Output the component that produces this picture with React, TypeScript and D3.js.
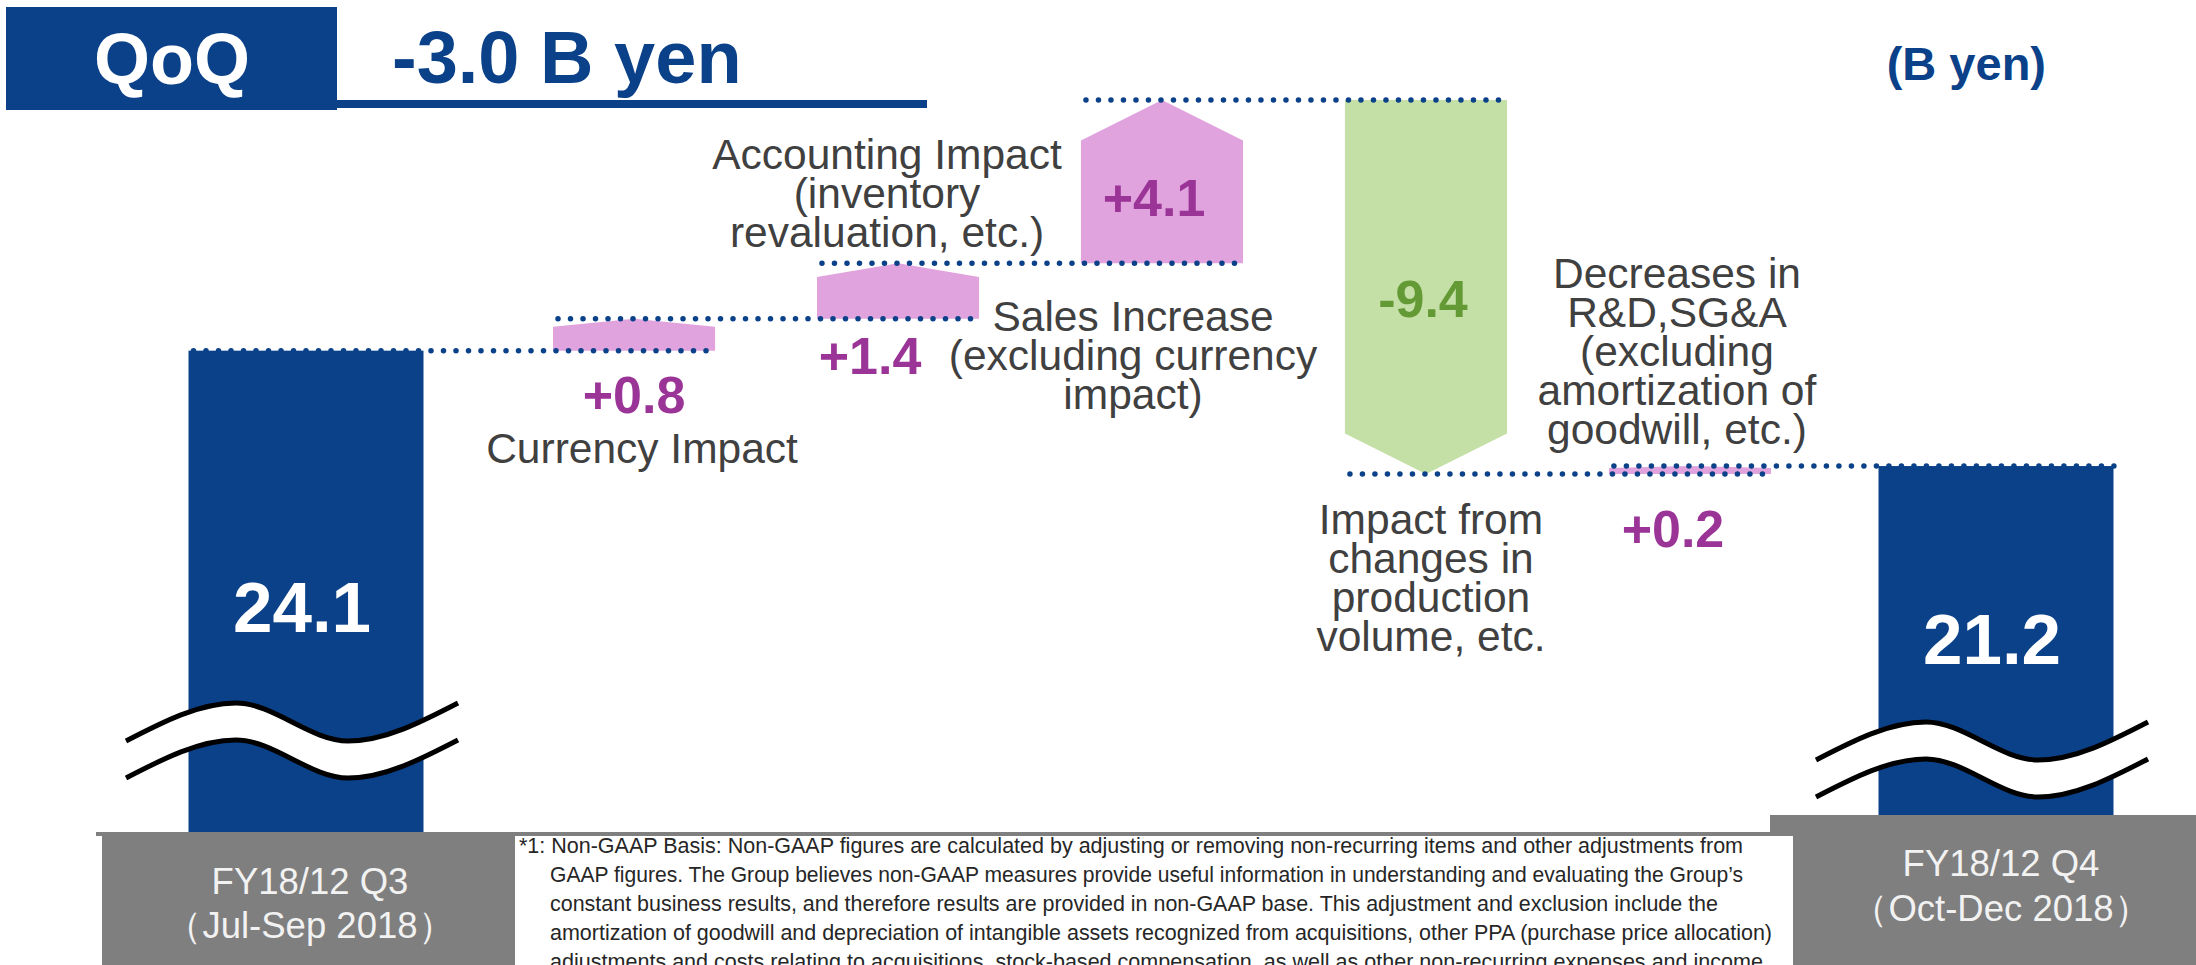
import React, { useEffect, useRef } from 'react';
import * as d3 from 'd3';

const W = 2196;
const H = 965;
const FONT = "'Liberation Sans', Arial, sans-serif";

// values (B yen)
const startValue = 24.1;
const endValue = 21.2;
const startLabel = ['FY18/12 Q3', '（Jul-Sep 2018）'];
const endLabel = ['FY18/12 Q4', '（Oct-Dec 2018）'];
const deltaKeys = ['currency', 'sales', 'accounting', 'production', 'sga'];
const deltaValues = [0.8, 1.4, 4.1, -9.4, 0.2];
const deltaLabels = [
  ['Currency Impact'],
  ['Sales Increase', '(excluding currency', 'impact)'],
  ['Accounting Impact', '(inventory', 'revaluation, etc.)'],
  ['Impact from', 'changes in', 'production', 'volume, etc.'],
  ['Decreases in', 'R&D,SG&A', '(excluding', 'amortization of', 'goodwill, etc.)'],
];
const titleText = 'QoQ';
const changeText = '-3.0 B yen';
const unitText = '(B yen)';
const footnoteLines = [
  '*1: Non-GAAP Basis: Non-GAAP figures are calculated by adjusting or removing non-recurring items and other adjustments from',
  'GAAP figures. The Group believes non-GAAP measures provide useful information in understanding and evaluating the Group’s',
  'constant business results, and therefore results are provided in non-GAAP base. This adjustment and exclusion include the',
  'amortization of goodwill and depreciation of intangible assets recognized from acquisitions, other PPA (purchase price allocation)',
  'adjustments and costs relating to acquisitions, stock-based compensation, as well as other non-recurring expenses and income',
];

const BLUE = '#0a4189';
const PINK = '#e0a3dd';
const PURPLE = '#9b3497';
const GREEN = '#c4e0a6';
const GREEN_TXT = '#649a35';
const GREY = '#7f7f7f';
const LABEL = '#404040';

// where each delta's value and caption sit, relative to its shape
const LINE_H = 39;
const labelLayout = [
  { valueY: (t, b) => b + 62, valueDx: 0, firstY: (t, b, n) => b + 112, textDx: 8 },
  { valueY: (t, b) => b + 55, valueDx: -28, firstY: (t, b, n) => t + 68, textDx: 235 },
  { valueY: (t, b, s) => (s + b) / 2 + 14, valueDx: -8, firstY: (t, b, n) => b - 16 - (n - 1) * LINE_H, textDx: -275 },
  { valueY: (t, b) => t + 0.58 * (b - t), valueDx: -3, firstY: (t, b, n) => b + 60, textDx: 5 },
  { valueY: (t, b) => b + 73, valueDx: -17, firstY: (t, b, n) => t - 22 - (n - 1) * LINE_H, textDx: -13 },
];
const breakMid = [722, 741];
const totalValueDy = [-90, -77];
const footnoteWidths = [1224, 1193, 1168, 1222, 1213];

const App = () => {
  const ref = useRef(null);

  useEffect(() => {
    document.body.style.margin = '0';
    const svg = d3.select(ref.current);
    svg.selectAll('*').remove();

    // totals at the ends, steps on their own band scale between them
    const xTotal = d3.scalePoint().domain(['start', 'end']).range([306, 1996]);
    const xStep = d3.scaleBand().domain(deltaKeys).range([553, 1771]).paddingInner(0.386).paddingOuter(0);
    const y = d3.scaleLinear().domain([21.0, 30.4]).range([474, 100]);
    const bw = xStep.bandwidth();
    const totalW = 235;
    const baseY = 832;

    // running levels
    const items = [];
    items.push({ key: 'start', from: startValue, to: startValue, total: true, cx: xTotal('start') });
    let level = startValue;
    deltaValues.forEach((d, i) => {
      const next = Math.round((level + d) * 10) / 10;
      items.push({ key: deltaKeys[i], from: level, to: next, total: false, delta: d, idx: i, cx: xStep(deltaKeys[i]) + bw / 2 });
      level = next;
    });
    items.push({ key: 'end', from: endValue, to: endValue, total: true, cx: xTotal('end') });
    items.forEach(it => {
      const w = it.total ? totalW : bw;
      it.x0 = it.cx - w / 2;
      it.x1 = it.cx + w / 2;
    });

    // header
    svg.append('rect').attr('x', 6).attr('y', 7).attr('width', 331).attr('height', 103).attr('fill', BLUE);
    svg.append('rect').attr('x', 337).attr('y', 100).attr('width', 590).attr('height', 8).attr('fill', BLUE);
    svg.append('text').attr('x', 172).attr('y', 84).attr('text-anchor', 'middle')
      .attr('font-size', 72).attr('font-weight', 700).attr('fill', '#fff').text(titleText);
    svg.append('text').attr('x', 392).attr('y', 83)
      .attr('font-size', 74).attr('font-weight', 700).attr('fill', BLUE).text(changeText);
    svg.append('text').attr('x', 2046).attr('y', 80).attr('text-anchor', 'end')
      .attr('font-size', 47).attr('font-weight', 700).attr('fill', BLUE).text(unitText);

    // total bars
    const totals = items.filter(d => d.total);
    svg.append('g').selectAll('rect').data(totals).join('rect')
      .attr('x', d => d.x0).attr('y', d => y(d.to))
      .attr('width', totalW).attr('height', d => baseY - y(d.to))
      .attr('fill', BLUE);

    // step arrows
    const steps = items.filter(d => !d.total);
    const arrow = d => {
      const top = y(Math.max(d.from, d.to));
      const bot = y(Math.min(d.from, d.to));
      const tip = 0.25 * Math.min(bw, bot - top);
      if (d.delta >= 0) {
        const s = top + tip;
        return `M${d.x0},${bot}L${d.x0},${s}L${d.cx},${top}L${d.x1},${s}L${d.x1},${bot}Z`;
      }
      const s = bot - tip;
      return `M${d.x0},${top}L${d.x1},${top}L${d.x1},${s}L${d.cx},${bot}L${d.x0},${s}Z`;
    };
    svg.append('g').selectAll('path').data(steps).join('path')
      .attr('d', arrow)
      .attr('fill', d => (d.delta >= 0 ? PINK : GREEN));

    // dotted connectors
    const links = d3.pairs(items).map(([a, b], i) => ({
      x0: a.x0 + 5, x1: b.x1 + (i === items.length - 2 ? 5 : -3), y: y(a.to),
    }));
    svg.append('g').selectAll('line').data(links).join('line')
      .attr('x1', d => d.x0).attr('x2', d => d.x1)
      .attr('y1', d => d.y).attr('y2', d => d.y)
      .attr('stroke', BLUE).attr('stroke-width', 5.5)
      .attr('stroke-linecap', 'round').attr('stroke-dasharray', '0 12.5');

    // step values and captions
    const fmt = v => (v > 0 ? '+' : '-') + Math.abs(v).toFixed(1);
    steps.forEach(d => {
      const L = labelLayout[d.idx];
      const top = y(Math.max(d.from, d.to));
      const bot = y(Math.min(d.from, d.to));
      const shoulder = top + 0.25 * Math.min(bw, bot - top);
      svg.append('text')
        .attr('x', d.cx + L.valueDx).attr('y', L.valueY(top, bot, shoulder))
        .attr('text-anchor', 'middle').attr('font-size', 52).attr('font-weight', 700)
        .attr('fill', d.delta >= 0 ? PURPLE : GREEN_TXT)
        .text(fmt(d.delta));
      const lines = deltaLabels[d.idx];
      const y0 = L.firstY(top, bot, lines.length);
      const t = svg.append('text').attr('text-anchor', 'middle')
        .attr('font-size', 42.5).attr('fill', LABEL);
      lines.forEach((s, i) => {
        t.append('tspan').attr('x', d.cx + L.textDx).attr('y', y0 + i * LINE_H).text(s);
      });
    });

    // axis break waves on the total bars
    const waveDx = [-180, -70, 42, 152];
    const waveDy = [19, -19, 19, -19];
    const gap = 37;
    totals.forEach((d, i) => {
      const pts = waveDx.map((dx, j) => [d.cx + dx, breakMid[i] + waveDy[j]]);
      const area = d3.area().x(p => p[0]).y0(p => p[1]).y1(p => p[1] + gap).curve(d3.curveMonotoneX);
      const line = d3.line().x(p => p[0]).y(p => p[1]).curve(d3.curveMonotoneX);
      svg.append('path').attr('d', area(pts)).attr('fill', '#fff');
      svg.append('path').attr('d', line(pts)).attr('fill', 'none').attr('stroke', '#000').attr('stroke-width', 5);
      svg.append('path').attr('d', line(pts.map(p => [p[0], p[1] + gap]))).attr('fill', 'none').attr('stroke', '#000').attr('stroke-width', 5);
      svg.append('text').attr('x', d.cx - 4).attr('y', breakMid[i] + totalValueDy[i])
        .attr('text-anchor', 'middle').attr('font-size', 71).attr('font-weight', 700)
        .attr('fill', '#fff').text(d.to.toFixed(1));
    });

    // bottom band: category boxes and footnote
    svg.append('rect').attr('x', 96).attr('y', 832).attr('width', W - 96).attr('height', 4).attr('fill', GREY);
    svg.append('rect').attr('x', 102).attr('y', 832).attr('width', W - 102).attr('height', H - 832).attr('fill', GREY);
    svg.append('rect').attr('x', 1770).attr('y', 815).attr('width', W - 1770).attr('height', H - 815).attr('fill', GREY);
    svg.append('rect').attr('x', 515).attr('y', 836).attr('width', 1278).attr('height', H - 836).attr('fill', '#fff');

    const catLabels = [startLabel, endLabel];
    const catY = [[894, 938], [876, 921]];
    totals.forEach((d, i) => {
      const t = svg.append('text').attr('text-anchor', 'middle').attr('font-size', 36.5).attr('fill', '#f2f2f2');
      catLabels[i].forEach((s, j) => {
        t.append('tspan').attr('x', i === 0 ? 310 : 2001).attr('y', catY[i][j]).text(s);
      });
    });

    svg.append('g').selectAll('text').data(footnoteLines).join('text')
      .attr('x', (d, i) => (i === 0 ? 519 : 550))
      .attr('y', (d, i) => 853 + i * 29)
      .attr('font-size', 21.5).attr('fill', '#262626')
      .attr('textLength', (d, i) => footnoteWidths[i])
      .attr('lengthAdjust', 'spacingAndGlyphs')
      .text(d => d);
  }, []);

  return (
    <svg ref={ref} width={W} height={H} viewBox={`0 0 ${W} ${H}`}
      style={{ display: 'block', fontFamily: FONT, background: '#fff' }} />
  );
};

export default App;
